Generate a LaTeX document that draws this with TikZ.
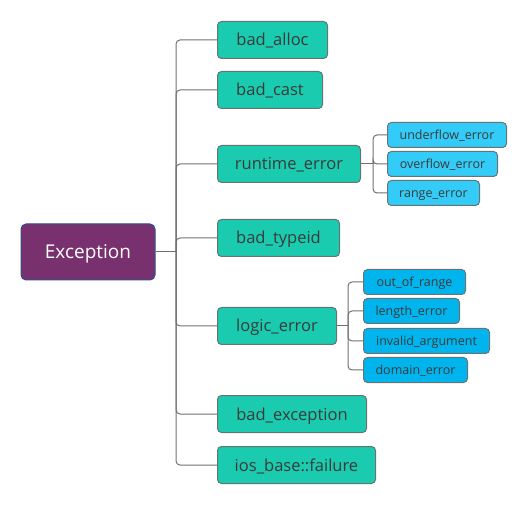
\documentclass[tikz,border=0pt]{standalone}
\usepackage{fontspec}
\setmainfont{Open Sans}
\definecolor{excfill}{HTML}{78306E}
\definecolor{excline}{HTML}{2F4F86}
\definecolor{kindfill}{HTML}{1ACBAF}
\definecolor{runfill}{HTML}{33CCF8}
\definecolor{logfill}{HTML}{00B5EE}
\definecolor{boxline}{HTML}{687472}
\definecolor{linegray}{HTML}{707070}
\definecolor{txt}{HTML}{3A3A3A}

\begin{document}
\begin{tikzpicture}[x=1pt,y=-1pt]
\tikzstyle{every node}+=[inner sep=0pt]
\tikzstyle{root}=[draw=excline, fill=excfill, line width=1pt, rounded corners=5pt, minimum width=134pt, minimum height=56pt, text height=14pt, text depth=0.5pt, text=white, font=\fontsize{19}{22}\selectfont]
\tikzstyle{kind}=[draw=boxline, fill=kindfill, line width=1pt, rounded corners=4pt, minimum height=37pt, text height=12.5pt, text depth=0.5pt, anchor=west, text=txt, font=\fontsize{16.5}{18}\selectfont]
\tikzstyle{sub}=[draw=boxline, line width=1pt, rounded corners=4pt, minimum height=25pt, text height=9.6pt, text depth=0.4pt, anchor=west, text=txt, font=\fontsize{12.5}{14}\selectfont]
\tikzstyle{link}=[draw=linegray, line width=1pt, rounded corners=4pt]
\useasboundingbox (0,0) rectangle (528,505);

\node[root] (exc) at (88,252) {Exception};

\node[kind, minimum width=110pt] (alloc) at (217,40) {bad\_alloc};
\node[kind, minimum width=105pt] (cast) at (217,90) {bad\_cast};
\node[kind, minimum width=143pt] (runtime) at (217,164) {runtime\_error};
\node[kind, minimum width=122pt] (typeid) at (217,238) {bad\_typeid};
\node[kind, minimum width=119pt] (logic) at (217,326) {logic\_error};
\node[kind, minimum width=149pt] (badexc) at (217,414) {bad\_exception};
\node[kind, minimum width=158pt] (iosfail) at (217,465) {ios\_base::failure};

\node[sub, fill=runfill, minimum width=119pt] (under) at (387,135) {underflow\_error};
\node[sub, fill=runfill, minimum width=110pt] (over) at (387,164) {overflow\_error};
\node[sub, fill=runfill, minimum width=92pt] (range) at (387,193) {range\_error};

\node[sub, fill=logfill, minimum width=102pt] (outrange) at (363,282) {out\_of\_range};
\node[sub, fill=logfill, minimum width=96pt] (length) at (363,311) {length\_error};
\node[sub, fill=logfill, minimum width=126pt] (invalid) at (363,341) {invalid\_argument};
\node[sub, fill=logfill, minimum width=104pt] (domain) at (363,370) {domain\_error};

\coordinate (hub) at (176,252);
\coordinate (runhub) at (373,164);
\coordinate (loghub) at (348,326);

\draw[link] (exc.east) -- (hub);
\foreach \n in {alloc,cast,runtime,typeid,logic,badexc,iosfail}
  \draw[link] (hub) |- (\n.west);
\draw[link] (runtime.east) -- (runhub);
\foreach \n in {under,over,range}
  \draw[link] (runhub) |- (\n.west);
\draw[link] (logic.east) -- (loghub);
\foreach \n in {outrange,length,invalid,domain}
  \draw[link] (loghub) |- (\n.west);
\end{tikzpicture}
\end{document}
